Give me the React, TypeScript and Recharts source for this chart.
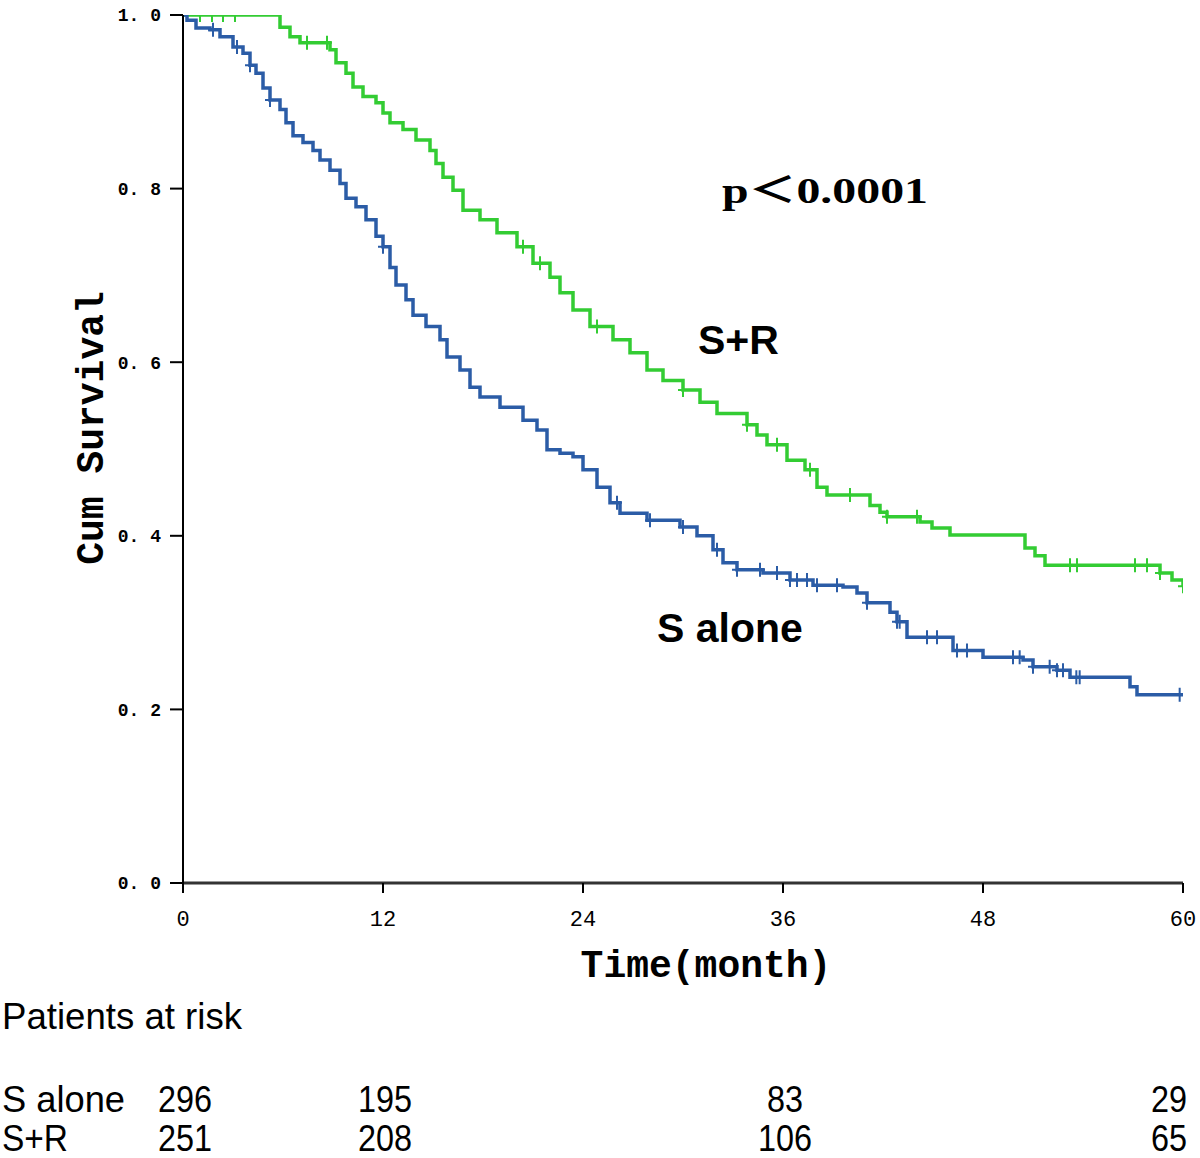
import React from "react";
import { LineChart, Line, XAxis, YAxis, Customized } from "recharts";

// ---- data ----
const sAloneTimes = [0, 0.24, 0.78, 1.62, 2.22, 3.0, 3.6, 4.02, 4.38, 4.8, 5.22, 5.82, 6.18, 6.6, 7.2, 7.8, 8.22, 8.82, 9.42, 9.78, 10.38, 10.98, 11.58, 12.0, 12.42, 12.78, 13.38, 13.8, 14.58, 15.42, 15.84, 16.62, 17.22, 17.82, 19.02, 20.4, 21.24, 21.84, 22.62, 23.4, 24.0, 24.84, 25.62, 26.22, 27.84, 29.82, 30.84, 31.8, 32.4, 33.24, 34.8, 36.42, 37.8, 39.6, 40.44, 41.04, 42.42, 42.84, 43.44, 46.2, 48.0, 50.4, 51.0, 52.44, 53.22, 56.82, 57.24, 60];
const sAloneSurv = [1.0, 0.994, 0.985, 0.983, 0.975, 0.963, 0.956, 0.942, 0.933, 0.916, 0.902, 0.891, 0.876, 0.861, 0.853, 0.844, 0.833, 0.821, 0.806, 0.789, 0.779, 0.764, 0.745, 0.733, 0.709, 0.689, 0.672, 0.654, 0.641, 0.626, 0.606, 0.591, 0.571, 0.56, 0.548, 0.533, 0.522, 0.499, 0.495, 0.491, 0.476, 0.456, 0.438, 0.426, 0.418, 0.41, 0.4, 0.384, 0.369, 0.361, 0.357, 0.349, 0.343, 0.341, 0.334, 0.323, 0.312, 0.301, 0.283, 0.268, 0.26, 0.257, 0.249, 0.245, 0.237, 0.226, 0.217, 0.217];
const sAloneCensor = [1.8, 3.24, 4.02, 5.22, 12.0, 26.04, 28.02, 30.0, 32.04, 33.24, 34.62, 35.64, 36.42, 36.84, 37.44, 38.04, 39.24, 41.04, 42.84, 43.0, 44.64, 45.24, 46.44, 47.04, 49.8, 50.2, 51.0, 52.0, 52.44, 52.8, 53.6, 53.8, 59.8];

const srTimes = [0, 5.82, 6.42, 7.02, 8.82, 9.18, 9.78, 10.2, 10.8, 11.58, 12.0, 12.42, 13.2, 13.98, 14.82, 15.18, 15.6, 16.2, 16.8, 17.82, 18.84, 20.04, 21.0, 22.02, 22.62, 23.4, 24.42, 25.8, 26.82, 27.84, 28.8, 30.0, 31.02, 32.04, 33.84, 34.44, 35.04, 36.24, 37.32, 38.04, 38.64, 41.22, 41.82, 42.24, 44.22, 44.94, 46.02, 50.52, 51.12, 51.72, 58.62, 59.34, 60];
const srSurv = [1.0, 0.986, 0.975, 0.968, 0.96, 0.945, 0.933, 0.917, 0.906, 0.899, 0.887, 0.876, 0.868, 0.856, 0.844, 0.829, 0.813, 0.798, 0.775, 0.764, 0.749, 0.733, 0.714, 0.698, 0.68, 0.66, 0.641, 0.626, 0.611, 0.591, 0.579, 0.568, 0.554, 0.541, 0.528, 0.516, 0.505, 0.487, 0.476, 0.456, 0.447, 0.435, 0.427, 0.422, 0.416, 0.409, 0.401, 0.386, 0.377, 0.366, 0.357, 0.349, 0.342];
const srCensor = [1.02, 1.74, 2.4, 3.12, 7.44, 8.64, 20.4, 21.42, 24.84, 30.0, 33.84, 35.64, 37.62, 40.02, 42.24, 44.04, 53.22, 53.64, 57.12, 57.84, 58.62, 60];

const xTicks = [0, 12, 24, 36, 48, 60];
const yTicks = [0, 0.2, 0.4, 0.6, 0.8, 1.0];

const riskTimes = [0, 12, 36, 60];
const riskSAlone = [296, 195, 83, 29];
const riskSR = [251, 208, 106, 65];

// ---- helpers ----
type Pt = { t: number; s: number; c: boolean };
function buildSeries(times: number[], surv: number[], censor: number[]): Pt[] {
  const pts: Pt[] = times.map((t, i) => ({ t, s: surv[i], c: false }));
  censor.forEach((ct) => {
    let s = surv[0];
    for (let i = 0; i < times.length; i++) if (times[i] <= ct) s = surv[i];
    pts.push({ t: ct, s, c: true });
  });
  return pts.sort((a, b) => a.t - b.t || (a.c ? 1 : 0) - (b.c ? 1 : 0));
}

const sAloneData = buildSeries(sAloneTimes, sAloneSurv, sAloneCensor);
const srData = buildSeries(srTimes, srSurv, srCensor);

const BLUE = "#2b5ca6";
const GREEN = "#33cc33";

const W = 1200;
const H = 1158;
const M = { top: 15, right: 17, bottom: 245, left: 0 };
const Y_AXIS_W = 183;
const X_AXIS_H = 30;
const PLOT_L = M.left + Y_AXIS_W;
const PLOT_W = W - PLOT_L - M.right;
const xPos = (t: number) => PLOT_L + (t / 60) * PLOT_W;

const MONO = "'Liberation Mono', 'DejaVu Sans Mono', monospace";
const SANS = "'Liberation Sans', Arial, sans-serif";

const censorDot = (color: string) => (props: any) => {
  const { cx, cy, payload, index } = props;
  if (!payload || !payload.c || cx == null || cy == null) return <g key={`d${index}`} />;
  return (
    <path
      key={`d${index}`}
      d={`M${cx - 5},${cy}H${cx + 5}M${cx},${cy - 7}V${cy + 7}`}
      stroke={color}
      strokeWidth={2}
      fill="none"
    />
  );
};

const RiskRow = ({ y, label, labelLen, values }: { y: number; label: string; labelLen: number; values: number[] }) => (
  <g>
    <text x={2} y={y} textLength={labelLen} lengthAdjust="spacingAndGlyphs">
      {label}
    </text>
    {riskTimes.map((t, i) => {
      const last = i === riskTimes.length - 1;
      const str = String(values[i]);
      return (
        <text
          key={i}
          x={last ? xPos(t) + 4 : xPos(t) + 2}
          y={y}
          textAnchor={last ? "end" : "middle"}
          textLength={str.length * 18}
          lengthAdjust="spacingAndGlyphs"
        >
          {str}
        </text>
      );
    })}
  </g>
);

const Annotations = () => (
  <g>
    <text
      x={103}
      y={428}
      transform="rotate(-90, 103, 428)"
      textAnchor="middle"
      fontFamily={MONO}
      fontWeight="bold"
      fontSize={38}
      fill="#000"
    >
      Cum Survival
    </text>
    <text x={706} y={977} textAnchor="middle" fontFamily={MONO} fontWeight="bold" fontSize={38} fill="#000">
      Time(month)
    </text>
    <text
      x={722}
      y={203}
      fontFamily="'Liberation Serif', 'Noto Sans CJK SC', serif"
      fontWeight="bold"
      fontSize={36}
      textLength={206}
      lengthAdjust="spacingAndGlyphs"
      fill="#000"
    >
      p＜0.0001
    </text>
    <text x={698} y={354} fontFamily={SANS} fontWeight="bold" fontSize={41} fill="#000">
      S+R
    </text>
    <text x={657} y={642} fontFamily={SANS} fontWeight="bold" fontSize={41} fill="#000">
      S alone
    </text>
    <g fontFamily={SANS} fontSize={37} fill="#000">
      <text x={2} y={1029} textLength={240} lengthAdjust="spacingAndGlyphs">
        Patients at risk
      </text>
      <RiskRow y={1112} label="S alone" labelLen={123} values={riskSAlone} />
      <RiskRow y={1151} label="S+R" labelLen={66} values={riskSR} />
    </g>
  </g>
);

export default function App() {
  return (
    <div style={{ position: "absolute", left: 0, top: 0, width: W, height: H, background: "#fff" }}>
      <LineChart width={W} height={H} margin={M}>
        <XAxis
          dataKey="t"
          type="number"
          domain={[0, 60]}
          ticks={xTicks}
          allowDataOverflow
          height={X_AXIS_H}
          tickSize={10}
          tickMargin={17}
          axisLine={{ stroke: "#333", strokeWidth: 3 }}
          tickLine={{ stroke: "#000", strokeWidth: 2 }}
          tick={{ fill: "#000", fontSize: 22, fontFamily: MONO }}
        />
        <YAxis
          type="number"
          domain={[0, 1]}
          ticks={yTicks}
          allowDataOverflow
          width={Y_AXIS_W}
          tickSize={13}
          tickMargin={9}
          tickFormatter={(v: number) => v.toFixed(1).replace(".", ". ")}
          axisLine={{ stroke: "#000", strokeWidth: 2 }}
          tickLine={{ stroke: "#000", strokeWidth: 2 }}
          tick={{ fill: "#000", fontSize: 18, fontWeight: "bold", fontFamily: MONO }}
        />
        <Line
          data={srData}
          dataKey="s"
          type="stepAfter"
          stroke={GREEN}
          strokeWidth={3.5}
          dot={censorDot(GREEN)}
          activeDot={false}
          isAnimationActive={false}
        />
        <Line
          data={sAloneData}
          dataKey="s"
          type="stepAfter"
          stroke={BLUE}
          strokeWidth={3.5}
          dot={censorDot(BLUE)}
          activeDot={false}
          isAnimationActive={false}
        />
        <Customized component={Annotations} />
      </LineChart>
    </div>
  );
}
